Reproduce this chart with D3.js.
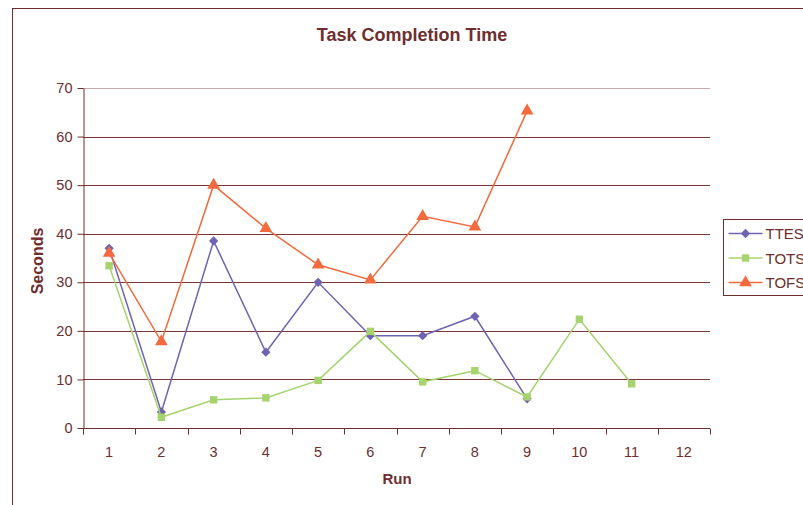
<!DOCTYPE html>
<html>
<head>
<meta charset="utf-8">
<script src="https://cdnjs.cloudflare.com/ajax/libs/d3/7.8.5/d3.min.js"></script>
<style>
  html, body { margin: 0; padding: 0; background: #fff; }
  svg { display: block; font-family: "Liberation Sans", Arial, sans-serif; }
</style>
</head>
<body>
<svg id="chart" width="803" height="505"></svg>
<script>
// Runs 1..12 on the category axis
const runs = ["1", "2", "3", "4", "5", "6", "7", "8", "9", "10", "11", "12"];
const yTicks = [0, 10, 20, 30, 40, 50, 60, 70];

// Completion time in seconds per run (null = no measurement)
const ttes = [37, 3.3, 38.5, 15.6, 30, 19, 19, 23, 6, null, null, null];
const tots = [33.4, 2.2, 5.8, 6.2, 9.8, 19.9, 9.5, 11.8, 6.4, 22.4, 9.1, null];
const tofs = [36, 17.8, 50, 41.1, 33.6, 30.5, 43.6, 41.4, 65.3, null, null, null];

const seriesNames = ["TTES", "TOTS", "TOFS"];

const ink = "#6e2e2e";
const series = [
  { name: seriesNames[0], values: ttes, color: "#6f63b3", shape: d3.symbolDiamond2, size: 55 },
  { name: seriesNames[1], values: tots, color: "#a6d36d", shape: d3.symbolSquare, size: 55 },
  { name: seriesNames[2], values: tofs, color: "#f26a3d", shape: d3.symbolTriangle, size: 70 }
];

const svg = d3.select("#chart");
const plot = { left: 83, right: 710, top: 88, bottom: 428 };

// Outer chart frame (extends past the right and bottom edges)
svg.append("rect")
  .attr("x", 12.5).attr("y", 8.5)
  .attr("width", 820).attr("height", 520)
  .attr("fill", "none").attr("stroke", ink).attr("stroke-width", 1);

const x = d3.scaleBand().domain(runs).range([plot.left, plot.right]).padding(0);
const y = d3.scaleLinear().domain([0, 70]).range([plot.bottom, plot.top]);

// Horizontal gridlines
svg.append("g")
  .selectAll("line")
  .data(yTicks.filter(v => v > 0))
  .join("line")
  .attr("x1", plot.left).attr("x2", plot.right)
  .attr("y1", d => Math.round(y(d)) + 0.5).attr("y2", d => Math.round(y(d)) + 0.5)
  .attr("stroke", d => (d === 70 ? "#c9a9a9" : "#7a3535"))
  .attr("stroke-width", 1);

// Y axis
const yAxis = svg.append("g")
  .attr("transform", `translate(${plot.left + 0.5},0)`)
  .call(d3.axisLeft(y).tickValues(yTicks).tickSize(6).tickSizeOuter(0).tickPadding(5));
yAxis.select(".domain").attr("stroke", ink);
yAxis.selectAll(".tick line").attr("stroke", ink);
yAxis.selectAll(".tick text")
  .attr("fill", ink).attr("font-size", 14.5)
  .attr("font-family", "\"Liberation Sans\", Arial, sans-serif");

// X axis with ticks on category boundaries
const xAxis = svg.append("g")
  .attr("transform", `translate(0,${plot.bottom + 0.5})`);
xAxis.append("line")
  .attr("x1", plot.left).attr("x2", plot.right)
  .attr("stroke", ink);
xAxis.selectAll("line.tk")
  .data(runs.concat(["end"]))
  .join("line").attr("class", "tk")
  .attr("x1", (d, i) => Math.round(plot.left + i * x.step()) + 0.5)
  .attr("x2", (d, i) => Math.round(plot.left + i * x.step()) + 0.5)
  .attr("y1", 0).attr("y2", 6)
  .attr("stroke", ink);
xAxis.selectAll("text")
  .data(runs)
  .join("text")
  .attr("x", d => x(d) + x.bandwidth() / 2)
  .attr("y", 28)
  .attr("text-anchor", "middle")
  .attr("fill", ink).attr("font-size", 14.5)
  .text(d => d);

// Titles
svg.append("text")
  .attr("x", 412).attr("y", 41)
  .attr("text-anchor", "middle")
  .attr("fill", ink).attr("font-size", 18).attr("font-weight", "bold")
  .text("Task Completion Time");

svg.append("text")
  .attr("x", 397).attr("y", 484)
  .attr("text-anchor", "middle")
  .attr("fill", ink).attr("font-size", 15).attr("font-weight", "bold")
  .text("Run");

svg.append("text")
  .attr("transform", "translate(43,261) rotate(-90)")
  .attr("text-anchor", "middle")
  .attr("fill", ink).attr("font-size", 16).attr("font-weight", "bold")
  .text("Seconds");

// Series lines and markers
const cx = (d, i) => x(runs[i]) + x.bandwidth() / 2;
const line = d3.line()
  .defined(d => d !== null)
  .x(cx)
  .y(d => y(d));

series.forEach(s => {
  const g = svg.append("g");
  g.append("path")
    .datum(s.values)
    .attr("d", line)
    .attr("fill", "none")
    .attr("stroke", s.color)
    .attr("stroke-width", 1.5);
  g.selectAll("path.pt")
    .data(s.values.map((v, i) => ({ v, i })).filter(d => d.v !== null))
    .join("path").attr("class", "pt")
    .attr("transform", d => `translate(${cx(d.v, d.i)},${y(d.v)})`)
    .attr("d", d3.symbol().type(s.shape).size(s.size))
    .attr("fill", s.color);
});

// Legend
const legend = svg.append("g").attr("transform", "translate(723.5,219.5)");
legend.append("rect")
  .attr("width", 100).attr("height", 76)
  .attr("fill", "#fff").attr("stroke", ink);
series.forEach((s, i) => {
  const row = legend.append("g").attr("transform", `translate(0,${14 + i * 24.5})`);
  row.append("line")
    .attr("x1", 5).attr("x2", 39)
    .attr("stroke", s.color).attr("stroke-width", 1.5);
  row.append("path")
    .attr("transform", "translate(22,0)")
    .attr("d", d3.symbol().type(s.shape).size(s.size))
    .attr("fill", s.color);
  row.append("text")
    .attr("x", 42).attr("y", 5.5)
    .attr("fill", ink).attr("font-size", 15)
    .text(s.name);
});
</script>
</body>
</html>
